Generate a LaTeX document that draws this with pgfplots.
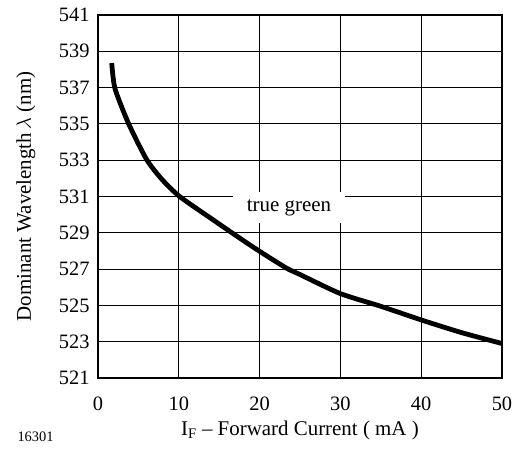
\documentclass[border=0pt]{standalone}
\usepackage{pgfplots}
\pgfplotsset{compat=1.18}
\usepackage{fontspec}
\setmainfont{Liberation Serif}
\begin{document}
\begin{tikzpicture}
\begin{axis}[
  at={(0,0)}, anchor=south west,
  scale only axis, width=404bp, height=363bp,
  xmin=0, xmax=50, ymin=521, ymax=541,
  xtick={0,10,...,50}, ytick={521,523,...,541},
  grid=major, major grid style={black, line width=0.9bp},
  axis line style={line width=2.6bp},
  tick style={draw=none},
  /pgf/number format/assume math mode=true,
  /pgf/number format/1000 sep={},
  ticklabel style={font=\fontsize{20.5}{20.5}\selectfont},
  yticklabel style={anchor=east, xshift=-5bp},
  xticklabel style={anchor=base, yshift=-32bp},
  xlabel={I\textsubscript{F} -- Forward Current ( mA )},
  ylabel={Dominant Wavelength\,$\lambda$ (nm)},
  label style={font=\fontsize{21}{21}\selectfont},
  xlabel style={at={(axis description cs:0.5,0)}, anchor=base, yshift=-57bp},
  ylabel style={at={(axis description cs:0,0.5)}, anchor=base, yshift=67bp},
  clip=false,
]
\addplot[black, line width=4.8bp, smooth, tension=0.4] coordinates {
(1.7,538.35) (2.1,536.95) (3.75,535.05) (6,533.05) (7.9,531.95) (10.1,531.0)
(13.9,529.82) (17.2,528.81) (20,527.98) (23.3,527.06) (25,526.7) (30,525.65)
(35,524.95) (40,524.2) (45,523.5) (50,522.9)};
\node[fill=white, inner sep=0pt, minimum width=112bp, minimum height=31bp,
  font=\fontsize{21}{21}\selectfont] at (axis cs:23.64,530.38) {true green};
\end{axis}
\node[anchor=base west, font=\fontsize{14.5}{14.5}\selectfont] at (-84bp,-63bp) {16301};
\path (-98bp,-72bp) rectangle (430bp,378bp);
\end{tikzpicture}
\end{document}
